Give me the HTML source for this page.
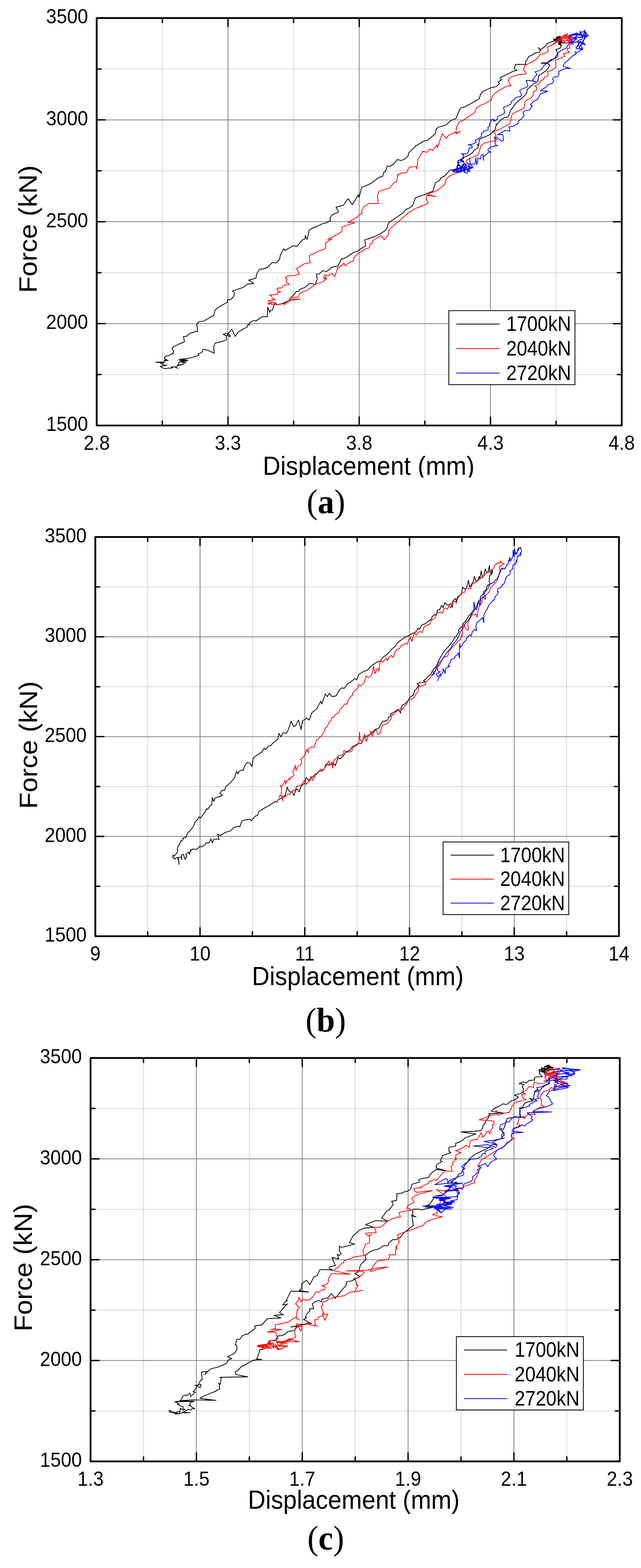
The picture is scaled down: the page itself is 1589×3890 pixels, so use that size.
<!DOCTYPE html>
<html><head><meta charset="utf-8"><title>Force-displacement</title>
<style>
html,body{margin:0;padding:0;background:#fff;}
body{width:1589px;height:3890px;overflow:hidden;}
svg{display:block;}
.gm{stroke:#cccccc;stroke-width:1.5;}
.gM{stroke:#838383;stroke-width:2;}
.tk{stroke:#000;stroke-width:3.4;stroke-linecap:round;fill:none;}
.fr{stroke:#000;stroke-width:4.4;fill:none;stroke-linejoin:round;}
.tl text{font-family:"Liberation Sans", Arial, sans-serif;font-size:50.6px;fill:#000;}
.tl text.lt{font-size:51px;}
.at{font-family:"Liberation Sans", Arial, sans-serif;fill:#000;}
.xt{font-size:65px;}
.yt{font-size:63px;}
.pl{font-family:"Liberation Serif", "Times New Roman", serif;font-size:85px;fill:#000;}
.cv{stroke-width:1.9;stroke-linejoin:round;}
.lg{fill:#fff;stroke:#000;stroke-width:2;}
.ll{stroke-width:2;}
</style></head><body>
<svg width="1589" height="3890" viewBox="0 0 1589 3890"><defs><clipPath id="clipA" clipPathUnits="userSpaceOnUse"><rect x="0" y="1100" width="1589" height="84.5"/></clipPath></defs><g><line x1="402.4" y1="44.7" x2="402.4" y2="1055.6" class="gm"/><line x1="727.8" y1="44.7" x2="727.8" y2="1055.6" class="gm"/><line x1="1053.2" y1="44.7" x2="1053.2" y2="1055.6" class="gm"/><line x1="1378.6" y1="44.7" x2="1378.6" y2="1055.6" class="gm"/><line x1="239.7" y1="929.2" x2="1541.3" y2="929.2" class="gm"/><line x1="239.7" y1="676.5" x2="1541.3" y2="676.5" class="gm"/><line x1="239.7" y1="423.8" x2="1541.3" y2="423.8" class="gm"/><line x1="239.7" y1="171.1" x2="1541.3" y2="171.1" class="gm"/><line x1="565.1" y1="44.7" x2="565.1" y2="1055.6" class="gM"/><line x1="890.5" y1="44.7" x2="890.5" y2="1055.6" class="gM"/><line x1="1215.9" y1="44.7" x2="1215.9" y2="1055.6" class="gM"/><line x1="239.7" y1="802.9" x2="1541.3" y2="802.9" class="gM"/><line x1="239.7" y1="550.1" x2="1541.3" y2="550.1" class="gM"/><line x1="239.7" y1="297.4" x2="1541.3" y2="297.4" class="gM"/></g><path d="M385.5,898.5 399.7,898.5 406.4,898 410.2,895.2 406.4,893.3 411.1,893.8 416.8,894.7 411.1,891.9 408.7,889.5 407.3,887.1 410.6,884.7 412.1,883.3 417.8,882.4 425.4,878.6 427.3,876.2 429.2,878.6 430.1,870 428.2,868 426.6,863 431.5,859.6 444.9,853 457.2,848 455.8,839.7 454.8,834.7 461.5,834.7 471.5,826.4 479.8,824.7 484.8,821.4 489.8,823 489.1,809.7 487.1,806.4 493.1,798.1 505.7,796.4 516.4,789.8 521.4,786.5 529.7,783.1 533,769.8 538,764.8 551.3,756.5 562.9,750.5 564.6,743.2 572.3,743.2 579.6,734.9 581.2,726.6 576.3,721.6 582.9,719.9 601.2,713.3 607.9,709.9 612.8,705 629.5,703.3 616.2,695 634.5,690 636.1,680 643.3,668 653.3,667 663.2,663 674.9,651.4 684.9,652.4 693.2,643 694.9,633.1 703.2,617.1 706.5,621.4 726.5,609.8 736.4,611.4 749.7,594.8 756.4,593.1 756.4,584.8 761.4,594.1 766.4,571.5 773,566.5 786.3,561.5 799.6,554.9 809.6,552.6 819.6,546.6 817.9,541.6 822.9,533.3 839.6,525.9 832.9,514 851.2,509.3 857.9,500 863.3,492.9 873.3,507.9 888.3,482.9 889.9,490.2 896.6,464.6 909.9,459.6 919.9,454.7 931.5,446.3 939.8,439.7 948.1,438 951.5,428 956.5,423 959.8,411.4 966.4,413.1 976.4,406.4 984.7,395.8 994.7,398.1 1003,394.8 1011.3,387.1 1013,379.8 1023,369.8 1031.3,361.5 1041.3,355.8 1051.3,349.9 1059.6,348.2 1069.6,339.9 1079.5,331.6 1081.2,319.9 1087.9,314.9 1096.2,313.3 1106.2,309.9 1116.1,300 1131.1,293.3 1134.4,283.3 1136.1,280 1141.6,267.9 1153.3,264.6 1178.2,251.3 1188.2,244.6 1191.5,233 1198.2,226.3 1216.5,218 1229.8,214.7 1238.1,208 1234.8,203 1243.1,198.1 1239.8,193.1 1246.4,189.7 1256.4,184.8 1266.4,179.8 1273,176.4 1281.3,174.8 1274.7,169.8 1278,159.8 1289.7,159.8 1303,159.8 1303,153.1 1306.3,148.2 1311.3,139.8 1319.6,136.5 1326.3,131.5 1337.9,129.9 1339.6,124.9 1334.6,118.2 1339.6,123.2 1349.5,116.6 1354.5,111.6 1356.2,108.2 1364.5,104.9 1372.8,101.6 1376.2,98.3 1381.1,93.3 1386.1,91.6 1378,104 1372,96 1380,103 1383,92 1388,90 1385,100 1391,94 1393,104 1386,108 1390,113 1389.5,96.6 1386.1,106.6 1391.1,109.9 1391.1,114.9 1387.8,119.9 1382.8,121.5 1377.8,123.2 1379.5,126.5 1382.8,131.5 1379.5,138.2 1372.8,146.5 1366.2,149.8 1359.5,154.8 1341.2,156.5 1359.5,158.1 1362.8,163.1 1359.5,168.1 1354.5,174.8 1349.5,178.1 1341.2,184.8 1336.2,186.4 1334.6,193.1 1332.9,203 1322.9,208 1312.9,216.4 1306.3,223 1306.3,228 1303,234.7 1293,244.6 1279.7,254.6 1273,264.6 1266.4,272.9 1259.7,289.5 1248.1,292.9 1239.8,299.5 1233.1,307.8 1229.5,307.8 1230.7,310.2 1228.3,316.1 1228.3,320.9 1221.2,326.8 1216.4,332.8 1209.3,336.3 1197.4,341.1 1187.9,345.8 1186.7,361.3 1183.2,358.9 1185.6,363.7 1184.4,367.2 1176,372 1171.3,379.1 1161.8,385.1 1151.1,389.8 1141.6,395.8 1135.6,399.3 1134.5,404.1 1136.8,407.6 1134.5,413.6 1132.1,418.3 1125,420.7 1115.4,421.9 1102.8,436.4 1092.8,441.3 1089.5,448 1079.5,453 1072.9,474.6 1062.9,477.9 1052.9,482.9 1041.3,486.3 1029.6,491.2 1023,509.5 1014.7,516.2 1006.4,519.5 999.7,527.8 962.6,553.2 959.3,566.5 954.3,572.5 942.7,579.8 929.4,586.5 916.1,591.5 904.4,594.8 906.1,609.8 896.1,616.4 886.1,623.1 876.2,626.4 866.2,633.1 856.2,639.7 846.2,643 837.9,659.7 822.9,663 809.6,673.7 799.6,671.3 791.3,679.6 784.7,679.6 786.3,692.9 781.3,706.3 774.7,703.6 766.4,703.6 756.4,712.9 743.1,717.9 739.8,723.6 734.8,722.9 726.5,732.9 721.5,737.9 718.1,741.2 718.4,744.2 704.2,751.3 697,753.7 687.5,756 681.6,751.3 678,760.8 675.6,769.1 670.9,770.3 668.5,775.1 663.8,762 662.6,785.8 649.5,785.8 634.5,796.4 629.5,794.8 619.5,799.8 617.8,806.4 614.5,804.8 612.8,811.4 602.9,816.4 591.2,823 582.9,834.7 574.6,816.4 562.9,831.4 570.6,835.7 569.6,831.4 561.3,826.4 553,829.7 561.3,833 561.3,843 558,844.7 546.3,848 533,851.3 529.7,861.3 531.3,876.3 516.4,869.6 503.1,866.3 501.4,872.9 496.4,876.3 491.4,877.9 493.1,881.3 483.1,884.6 473.1,887.9 473.9,887.6 443.4,891.9 464.4,892.8 445.3,894.7 465.3,895.2 448.2,895.7 460.6,899.5 455.8,900.4 449.1,897.6 443.4,898.5 440.6,906.1 455.8,903.3 441.5,907.1 433.9,910.9 441.5,913.7 432,909.9 424.4,910.4 428.2,911.8 425.4,913.3 416.8,913.3 413,914.2 405.4,913.7 403.5,912.3 398.8,910.9 397.8,908.5 404.5,907.5 413,907.1 401.6,903.7 398.8,901.4 406.4,900.4 385.5,898.5" fill="none" stroke="#000" class="cv cva"/><path d="M1371.4,96.4 1374.2,99.2 1372.8,102.8 1379.9,92.8 1382.8,90.7 1384.2,95.6 1388.5,89.9 1389.9,92.8 1387,98.5 1388.5,107.1 1385.6,111.3 1384.2,102.8 1381.3,97.1 1377.1,102.8 1379.2,94.2 1386.3,91.4 1389.9,101.4 1394.2,105.6 1401.3,104.2 1392.7,107.1" fill="none" stroke="#000" class="cv cva"/><path d="M662.6,753.7 679.2,750.1 668.5,750.1 665,746.5 678,744.2 682.8,743 675.6,741.8 673.3,734.7 668.5,732.3 688.7,729.9 687.5,726.3 695.8,724 689.9,722.8 686.3,716.8 688.7,714.5 698.2,714.5 704.2,707.3 717.2,706.1 710.1,699 711.3,691.9 707.7,689.5 711.3,684.8 727.9,683.6 742.2,680 734.8,666.3 746.4,659.7 753.1,654.7 769.7,651.4 766.4,639.7 768,633.1 783,626.4 789.7,623.1 804.6,618.1 808,613.1 806.3,603.1 822.9,593.1 812.9,594.1 832.9,583.2 839.6,579.8 847.9,573.9 847.9,563.2 862.8,558.2 879.5,552.6 862.8,551.6 886.1,538.3 889.5,533.3 897.8,529.9 896.1,523.3 901.1,513.3 914.4,505 937.7,505 935.8,486.3 939.2,474.6 949.8,471.3 966.4,466.3 976.4,453 983.1,451.3 986.4,431.4 988.1,434.7 993,429.7 1008,428 1014.7,414.7 1033,413.1 1033,419.7 1036.3,394.8 1041.3,388.1 1047.9,374.8 1057.9,378.1 1066.2,369.8 1072.9,373.1 1082.9,359.8 1084.5,366.5 1096.2,331.6 1106.2,343.2 1112.8,334.9 1129.4,328.2 1131.1,331.6 1141.1,325.9 1129.4,329.9 1132.8,313.3 1139.4,301.6 1149.4,298.3 1159.4,290 1176,280 1181.5,267.9 1188.2,262.9 1203.2,256.3 1218.1,248 1219.8,239.6 1226.5,231.3 1239.8,223 1251.4,216.4 1258.1,213 1266.4,213 1263,206.4 1259.7,199.7 1263,193.1 1276.4,188.1 1286.3,184.8 1293,184.8 1304.6,183.1 1298,173.1 1299.6,164.8 1306.3,159.8 1312.9,156.5 1319.6,153.1 1327.9,148.2 1339.6,134.9 1352.9,131.5 1359.5,126.5 1356.2,116.6 1366.2,113.2 1372.8,108.2 1382.8,103.2 1386.1,98.3 1396.1,93.3 1406.1,85 1402.8,93.3 1419.4,91.6 1386,95 1407,83.5 1396,93 1402,88 1418,93 1407,97 1415,94 1410,103 1421,110 1412,103 1404,107 1394,107 1401,104 1390,97 1367,112 1377,107 1378,100 1392,101 1405,94 1419,92 1419.4,93.3 1409.4,96.6 1421.1,101.6 1417.7,108.2 1411.1,113.2 1412.7,119.9 1406.1,119.9 1406.1,124.9 1412.7,129.9 1396.1,133.2 1401.1,139.8 1392.8,143.2 1382.8,146.5 1376.2,149.8 1377.8,156.5 1377.8,168.1 1366.2,174.8 1356.2,178.1 1359.5,184.8 1356.2,189.7 1349.5,191.4 1347.9,196.4 1339.6,201.4 1336.2,208 1326.3,213 1331.2,218 1329.6,224.7 1321.3,228 1322.9,234.7 1316.3,243 1306.3,248 1301.3,252.9 1299.6,266.3 1294.7,271.2 1283,276.2 1269.7,282.9 1266.4,296.2 1263,307.8 1258,310.2 1249.7,313.8 1242.6,318.5 1233.1,323.3 1221.2,328 1228.3,331.6 1229.5,337.5 1224.8,341.1 1231.9,345.8 1226,349.4 1212.9,351.8 1199.8,355.4 1191.5,362.5 1190.3,368.4 1186.7,380.3 1182,386.2 1166.5,392.2 1157,396.9 1155.8,401.7 1161.8,406.4 1152.3,407.6 1146.3,408.8 1144,416 1142.8,425.5 1129.7,430.2 1119,433.8 1109.5,441.3 1104.5,448 1102.8,458 1089.5,468 1079.5,474.6 1069.6,477.9 1059.6,482.9 1081.2,487.9 1057.9,484.6 1056.3,492.9 1061.2,504.6 1049.6,509.5 1036.3,514.5 1023,521.2 1013,527.8 964.3,569.9 962.6,583.2 952.7,594.8 944.4,584.8 936,589.8 924.4,596.5 922.7,603.1 917.7,604.8 916.1,614.8 904.4,618.1 894.5,624.8 886.1,629.7 877.8,639.7 876.2,648 867.8,649.7 856.2,659.7 852.9,653 839.6,664.7 837.9,663 834.6,673 829.6,686.3 822.9,678 812.9,684.6 804.6,681.3 809.6,692.9 801.3,686.3 806.3,694.6 799.6,699.6 783,704.6 771.4,712.9 763,719.6 753.1,722.9 746.4,726.2 741,731.1 739.8,737 722,738.2 717.2,742.3 744.6,742.3 720.8,745.4 717.2,748.9 708.9,751.3 704.2,757.2 706.5,752.5 687.5,756 662.6,753.7" fill="none" stroke="#f00" class="cv cva"/><path d="M1385.6,94.2 1407,83.5 1395.6,92.8 1401.3,88.5 1418.4,92.8 1407,97.1 1415.6,94.2 1409.9,102.8 1421.3,109.9 1412.7,102.8 1404.1,107.1 1394.2,107.1 1401.3,104.2 1389.9,97.1 1367.1,112 1377.1,107.1 1378.5,99.9 1394.2,95.6 1415.6,89.9 1404.1,99.9 1418.4,99.9 1398.4,101.4" fill="none" stroke="#f00" class="cv cva"/><path d="M1145.2,423.1 1120.2,424.3 1128.5,423.1 1135.6,426.6 1141.6,425.5 1132.1,418.3 1133.3,411.2 1135.6,406.4 1134.5,401.7 1138,396.9 1149.9,401.7 1141.6,398.1 1149.9,392.2 1147.5,389.8 1149.9,385.1 1144,381.5 1158.2,381.5 1161.8,375.6 1163,367.2 1171.3,366 1168.9,361.3 1160.6,358.9 1171.3,357.7 1176,355.4 1180.8,353 1177.2,348.2 1184.4,345.8 1186.7,342.3 1192.7,339.9 1193.9,335.2 1192.7,331.6 1197.4,329.2 1198.6,325.6 1208.1,323.3 1210.5,320.9 1209.3,316.1 1212.9,313.8 1214.1,306.6 1216.4,304.3 1217.6,298.3 1215.3,297.1 1223.6,295.9 1227.1,300.7 1222.4,299.5 1229.5,298.3 1233.1,294.8 1233.1,289.5 1248.1,282.9 1251.4,279.6 1248.1,266.3 1258.1,262.9 1266.4,257.9 1268,251.3 1273,248 1279.7,241.3 1289.7,239.6 1293,236.3 1288,224.7 1296.3,219.7 1306.3,216.4 1308,211.4 1304.6,199.7 1311.3,199.7 1321.3,201.4 1327.9,203 1319.6,199.7 1326.3,189.7 1331.2,184.8 1326.3,178.1 1332.9,176.4 1341.2,173.1 1346.2,166.5 1349.5,161.5 1356.2,156.5 1359.5,153.1 1364.5,148.2 1372.8,146.5 1379.5,143.2 1382.8,138.2 1382.8,131.5 1389.5,126.5 1396.1,123.2 1402.8,119.9 1409.4,109.9 1416.1,104.9 1416.1,98.3 1426.1,91.6 1439.4,81.6 1449.3,76.6 1457.7,88.3 1429.4,85 1412.7,89.9 1410,88 1430,82 1438,88 1438,77 1444,93 1450,75 1451,93 1458,88 1447,90 1438,93 1430,92 1418,97 1430,96 1421,103 1415,104 1410,107 1438,103 1451,112 1440,105 1435,107 1428,120 1444,123 1436,117 1447,100 1452,82 1451,86.6 1449.3,96.6 1444.4,101.6 1449.3,109.9 1439.4,109.9 1444.4,121.5 1439.4,124.9 1429.4,131.5 1426.1,128.2 1427.7,134.9 1422.7,136.5 1416.1,141.5 1412.7,144.8 1406.1,151.5 1399.4,156.5 1396.1,164.8 1414.4,169.8 1402.8,169.8 1392.8,173.1 1384.5,178.1 1386.1,183.1 1382.8,189.7 1372.8,191.4 1369.5,196.4 1372.8,199.7 1369.5,206.4 1359.5,209.7 1352.9,216.4 1339.6,224.7 1357.9,226.3 1339.6,233 1337.9,236.3 1332.9,246.3 1322.9,251.3 1314.6,259.6 1319.6,262.9 1312.9,272.9 1301.3,274.6 1296.3,279.6 1299.6,286.2 1293,294.5 1286.3,299.5 1283,307.8 1284.2,306.6 1273.5,312.6 1261.6,315 1264,325.6 1253.3,323.3 1233.1,334 1237.8,334 1246.2,334 1248.5,347 1243.8,350.6 1230.7,339.9 1226,343.5 1228.3,347 1227.1,354.2 1228.3,358.9 1233.1,361.3 1224.8,362.5 1216.4,364.9 1210.5,369.6 1209.3,373.2 1216.4,377.9 1210.5,377.9 1203.4,385.1 1197.4,389.8 1198.6,398.1 1197.4,382.7 1192.7,385.1 1191.5,394.6 1184.4,392.2 1184.4,399.3 1182,408.8 1179.6,391 1178.4,404.1 1176,407.6 1165.4,406.4 1164.2,392.2 1165.4,407.6 1170.1,411.2 1172.5,416 1163,416 1161.8,419.5 1157,419.5 1159.4,425.5 1158.2,430.2 1152.3,427.8 1147.5,423.1 1154.7,406.4 1151.1,425.5 1145.2,408.8 1142.8,420.7 1135.6,418.3 1128.5,423.1 1123.8,426.6 1138,427.8 1147.5,424.3" fill="none" stroke="#00f" class="cv cva"/><path d="M1409.9,88.5 1429.8,82.1 1438.4,88.5 1438.4,77.1 1444.1,93.5 1449.8,75 1451.2,93.5 1458.3,87.8 1446.9,89.9 1438.4,92.8 1429.8,92.1 1418.4,97.1 1429.8,95.6 1421.3,102.8 1415.6,104.2 1409.9,107.1 1438.4,102.8 1451.2,112 1439.8,104.9 1435.5,107.1 1428.4,119.9 1444.1,122.7 1435.5,117 1432.7,99.9 1444.1,97.1 1441.2,85.7 1424.1,87.1" fill="none" stroke="#00f" class="cv cva"/><path d="M1122.8,423 1136.1,419.7 1132.8,413.1 1139.4,409.7 1142.7,426.4 1149.4,406.4 1151.1,428 1156.1,413.1 1161,423 1162.7,406.4 1164.4,426.4 1154.4,419.7 1142.7,413.1 1132.8,423 1126.1,421.4 1139.4,416.4 1146.1,423 1136.1,403.1 1149.4,399.8 1142.7,396.4 1157.7,411.4 1166,413.1 1171,416.4 1162.7,419.7" fill="none" stroke="#00f" class="cv cva"/><path d="M402.4,1055.6v-11M402.4,44.7v11M565.1,1055.6v-21M565.1,44.7v21M727.8,1055.6v-11M727.8,44.7v11M890.5,1055.6v-21M890.5,44.7v21M1053.2,1055.6v-11M1053.2,44.7v11M1215.9,1055.6v-21M1215.9,44.7v21M1378.6,1055.6v-11M1378.6,44.7v11M239.7,929.2h11M1541.3,929.2h-11M239.7,802.9h21M1541.3,802.9h-21M239.7,676.5h11M1541.3,676.5h-11M239.7,550.1h21M1541.3,550.1h-21M239.7,423.8h11M1541.3,423.8h-11M239.7,297.4h21M1541.3,297.4h-21M239.7,171.1h11M1541.3,171.1h-11" class="tk"/><rect x="239.7" y="44.7" width="1301.6" height="1010.9" class="fr"/><g class="tl"><rect x="1112.6" y="770.6" width="312.7" height="183.7" class="lg"/><line x1="1131.2" y1="803.9" x2="1238.4" y2="803.9" stroke="#000" class="ll"/><text transform="translate(1415.8,820.9) scale(0.915,1)" text-anchor="end" class="lt">1700kN</text><line x1="1131.2" y1="864.8" x2="1238.4" y2="864.8" stroke="#f00" class="ll"/><text transform="translate(1415.8,881.8) scale(0.915,1)" text-anchor="end" class="lt">2040kN</text><line x1="1131.2" y1="925.6" x2="1238.4" y2="925.6" stroke="#00f" class="ll"/><text transform="translate(1415.8,942.6) scale(0.915,1)" text-anchor="end" class="lt">2720kN</text></g><g class="tl"><text transform="translate(218.2,1069.1) scale(0.924,1)" text-anchor="end">1500</text><text transform="translate(218.2,816.4) scale(0.924,1)" text-anchor="end">2000</text><text transform="translate(218.2,563.6) scale(0.924,1)" text-anchor="end">2500</text><text transform="translate(218.2,310.9) scale(0.924,1)" text-anchor="end">3000</text><text transform="translate(218.2,58.2) scale(0.924,1)" text-anchor="end">3500</text><text transform="translate(239.7,1116.3) scale(0.924,1)" text-anchor="middle">2.8</text><text transform="translate(565.1,1116.3) scale(0.924,1)" text-anchor="middle">3.3</text><text transform="translate(890.5,1116.3) scale(0.924,1)" text-anchor="middle">3.8</text><text transform="translate(1215.9,1116.3) scale(0.924,1)" text-anchor="middle">4.3</text><text transform="translate(1541.3,1116.3) scale(0.924,1)" text-anchor="middle">4.8</text></g><g clip-path="url(#clipA)"><text transform="translate(914,1178) scale(0.932,1)" text-anchor="middle" class="at xt">Displacement (mm)</text></g><text transform="translate(91,568.4) rotate(-90) scale(1.065,1)" text-anchor="middle" class="at yt">Force (kN)</text><text transform="translate(808,1272.5) scale(0.965,1)" text-anchor="middle" class="pl">(<tspan font-weight="bold">a</tspan>)</text><g><line x1="366.1" y1="1332.3" x2="366.1" y2="2322.6" class="gm"/><line x1="625.7" y1="1332.3" x2="625.7" y2="2322.6" class="gm"/><line x1="885.4" y1="1332.3" x2="885.4" y2="2322.6" class="gm"/><line x1="1145" y1="1332.3" x2="1145" y2="2322.6" class="gm"/><line x1="1404.6" y1="1332.3" x2="1404.6" y2="2322.6" class="gm"/><line x1="236.3" y1="2198.8" x2="1534.4" y2="2198.8" class="gm"/><line x1="236.3" y1="1951.2" x2="1534.4" y2="1951.2" class="gm"/><line x1="236.3" y1="1703.7" x2="1534.4" y2="1703.7" class="gm"/><line x1="236.3" y1="1456.1" x2="1534.4" y2="1456.1" class="gm"/><line x1="495.9" y1="1332.3" x2="495.9" y2="2322.6" class="gM"/><line x1="755.5" y1="1332.3" x2="755.5" y2="2322.6" class="gM"/><line x1="1015.2" y1="1332.3" x2="1015.2" y2="2322.6" class="gM"/><line x1="1274.8" y1="1332.3" x2="1274.8" y2="2322.6" class="gM"/><line x1="236.3" y1="2075" x2="1534.4" y2="2075" class="gM"/><line x1="236.3" y1="1827.4" x2="1534.4" y2="1827.4" class="gM"/><line x1="236.3" y1="1579.9" x2="1534.4" y2="1579.9" class="gM"/></g><path d="M428.3,2128.5 428.7,2121.2 432,2124.4 434.4,2120.4 436.8,2118 438.4,2116.8 439.2,2113.9 440.9,2110.7 439.2,2106.7 440.9,2102.6 441.7,2098.6 443.3,2097.8 444.9,2093.7 447.3,2088.9 448.5,2085.7 450.6,2087.3 453,2082.4 454.6,2080.8 453.2,2079.6 461.5,2076.3 464.9,2066.3 469.9,2063 474.9,2056.3 479.8,2049.7 483.2,2039.7 489.8,2033 493.1,2026.4 496.5,2029.7 503.1,2021.4 509.8,2013.1 511.4,2006.4 514.8,2008.1 519.8,1999.8 524.8,1996.4 526.4,1978.1 529.7,1988.1 533.1,1979.8 543,1976.5 551.4,1973.1 544.7,1968.2 551.4,1959.8 556.4,1961.5 559.7,1951.5 573,1939.9 581.3,1929.9 586.3,1913.3 589.6,1919.9 592.9,1913.3 599.6,1909.9 602.9,1911.6 606.3,1900 612.9,1891.6 619.6,1893.3 624.6,1901.6 627.9,1880 650,1864.6 655,1856.2 658.3,1859.6 665,1851.2 671.6,1849.6 676.6,1842.9 688.3,1834.6 691.6,1819.6 696.6,1828 701.6,1818 709.9,1819.6 714.9,1809.7 721.5,1789.7 728.2,1803 733.2,1799.7 739.8,1786.4 746.5,1809.7 749.8,1788 756.5,1784.7 759.8,1781.4 766.4,1786.4 773.1,1768.1 779.7,1763.1 786.4,1756.4 794.7,1739.8 798,1746.5 806.4,1721.5 811.3,1728.2 816.3,1719.8 823,1728.2 833,1726.5 841.3,1711.5 847.9,1706.5 852.9,1708.2 861.2,1696.6 867.9,1693.2 879.5,1683.2 884.5,1686.6 889.5,1673.3 902.8,1665 909.5,1663.3 917.8,1655 926.1,1648.3 932.8,1643.3 942.7,1640 950,1629.5 956.7,1626.2 965,1617.9 971.6,1609.5 976.6,1606.2 981.6,1601.2 984.9,1594.6 989.9,1591.2 996.6,1586.3 1003.2,1581.3 1011.5,1577.9 1016.5,1574.6 1024.9,1570.3 1028.2,1569.6 1033.2,1564.6 1036.5,1558 1039.8,1561.3 1046.5,1549.7 1053.1,1548 1059.8,1543 1064.8,1539 1068.1,1538 1071.4,1529.7 1078.1,1524.7 1081.4,1526.4 1084.7,1513.1 1089.7,1513.1 1094.7,1501.4 1098,1508.1 1103,1494.8 1108,1500.4 1114.7,1499.1 1118,1498.1 1121.3,1506.4 1123,1489.8 1129.6,1484.8 1131.3,1493.1 1134.6,1479.8 1139.6,1478.1 1144.6,1473.1 1146.3,1456.5 1151.3,1461.5 1156.3,1459.8 1161.2,1439.9 1164.6,1456.5 1167.9,1451.5 1172.9,1443.2 1176.2,1429.9 1179.5,1441.5 1184.5,1439.9 1187.9,1429.9 1189.5,1436.6 1192.8,1416.6 1196.2,1433.2 1199.5,1426.6 1202.8,1411.6 1206.2,1419.9 1209.5,1419.9 1213.3,1403.2 1213.9,1414.5 1215.3,1418.5 1217.3,1425.2 1218.6,1417.2 1219.9,1414.5 1221.3,1417.2 1220.6,1419.9 1218.6,1425.2 1215.9,1426.5 1213.9,1427.8 1213.3,1433.2 1212.6,1441.1 1213.9,1446.5 1215.3,1449.1 1209.5,1451.5 1206.2,1456.5 1204.5,1464.8 1199.5,1466.5 1197.8,1474.8 1194.5,1476.5 1191.2,1479.8 1189.5,1491.4 1184.5,1494.8 1182.9,1501.4 1179.5,1508.1 1176.2,1513.1 1171.2,1516.4 1167.9,1523 1162.9,1526.4 1159.6,1533 1156.3,1536.4 1152.9,1543 1147.9,1546.3 1146.3,1553 1141.3,1558 1136.3,1563 1138,1566.3 1134.6,1572.9 1131.3,1577.9 1126.3,1582.9 1123,1589.6 1118,1596.2 1113,1602.9 1106.4,1609.5 1099.7,1617.9 1094.7,1626.2 1089.7,1634.5 1083.1,1649.5 1079.2,1655.7 1073.7,1662.3 1070.4,1666.7 1068.2,1673.2 1062.8,1676.5 1056.2,1684.2 1049.6,1688.5 1054,1691.8 1047.5,1692.9 1038.7,1694 1034.3,1696.2 1037.6,1699.5 1035.4,1704.9 1032.1,1709.3 1027.8,1713.7 1024.5,1724.6 1019,1727.9 1015.7,1731.2 1010.3,1739.9 1003.7,1746.5 997.2,1749.8 995,1756.3 992.8,1769.4 988.4,1760.7 984,1760.7 980.8,1764 976.4,1767.2 968.7,1770.5 967.7,1777.1 963.3,1779.3 960,1788 947.7,1789.7 942.7,1799.7 939.4,1806.3 929.4,1809.7 921.1,1819.6 909.5,1826.3 902.8,1829.6 897.8,1839.6 896.2,1844.6 887.9,1844.6 882.9,1847.9 872.9,1852.9 867.9,1861.2 856.3,1866.2 852.9,1872.9 842.9,1882.8 838,1879.5 831.3,1899.5 826.3,1892.8 823,1896.2 816.3,1897.8 808,1896.2 803,1909.5 796.8,1912.9 793.8,1911.9 789.8,1913.9 785.8,1918.9 781.8,1919.9 777.8,1924.9 773.8,1927.9 769.8,1931.9 764.9,1935.9 761.9,1931.9 758.9,1928.9 755.9,1943.9 751.9,1944.9 745.9,1951.9 741.9,1964.8 735.9,1956.8 731.9,1963.8 728.9,1973.8 723.9,1963.8 719.9,1964.8 715.9,1961.8 712,1952.9 709,1965.8 706,1975.8 698,1979.8 690,1983.8 686.1,1989.8 682.8,1988.1 672.8,1994.8 666.1,1999.1 657.8,2003.1 647.8,2009.7 642.8,2011.4 637.9,2023 632.9,2024.7 622.9,2036.4 619.6,2032.4 606.3,2034.7 599.6,2036.4 594.6,2051.3 591.3,2049.7 579.6,2053 571.3,2061.3 559.7,2064.6 546.4,2072.9 539.7,2069.6 543,2082.9 536.4,2081.3 529.7,2082.9 526.4,2091.2 523.1,2081.3 518.1,2091.2 509.8,2091.2 508.1,2096.2 499.8,2101.2 494.8,2099.6 491.8,2103.4 486.9,2107.1 477.2,2106.3 473.2,2110.7 472.4,2107.5 471.6,2112.3 469.9,2119.6 467.5,2113.9 460.2,2120.4 463.5,2123.6 458.6,2131.7 454.6,2119.6 449.7,2121.2 450.6,2132.5 448.9,2126.1 441.7,2127.7 444.1,2144.6 440.9,2128.5 440,2127.7 437.6,2127.7 435.2,2129.3 433.6,2131.7 431.2,2128.1 428.3,2128.5" fill="none" stroke="#000" class="cv cvb"/><path d="M692,1979.8 694,1972.8 699,1975.8 702,1987.8 697,1973.8 698,1955.8 695,1947.9 698,1951.9 702,1945.9 705,1939.9 707,1934.9 708,1945.9 710,1939.9 712,1936.9 715,1933.9 716.9,1930.9 718.9,1934.9 719.9,1927.9 722.9,1927.9 726.9,1925.9 728.9,1921.9 725.9,1913.9 727.9,1910.9 730.9,1904 731.9,1898 733.9,1911.9 737.9,1902 740.9,1900 744.9,1898 746.9,1892 747.9,1888 744.9,1884 749.9,1880 753.1,1876.2 756.5,1872.9 759.8,1859.6 764.8,1867.9 763.1,1857.9 773.1,1852.9 778.1,1854.6 783.1,1839.6 788.1,1832.9 796.4,1826.3 803,1816.3 806.4,1806.3 811.3,1803 813,1798 816.3,1791.4 819.7,1789.7 823,1779.7 826.3,1779.7 833,1771.4 839.6,1768.1 842.9,1759.8 849.6,1753.1 854.6,1746.5 861.2,1746.5 862.9,1736.5 869.6,1728.2 872.9,1724.8 874.6,1723.2 872.9,1721.5 879.5,1713.2 886.2,1708.2 889.5,1698.2 894.5,1701.5 899.5,1696.6 902.8,1693.2 907.8,1676.6 912.8,1681.6 919.5,1676.6 922.8,1669.9 926.1,1653.3 929.4,1671.6 934.4,1660 937.8,1658.3 939.4,1665 942.7,1640 950,1642.8 953.3,1636.2 958.3,1632.8 960,1639.5 965,1629.5 970,1626.2 975,1631.2 979.9,1616.2 984.9,1611.2 989.9,1609.5 994.9,1601.2 999.9,1599.6 1004.9,1596.2 1009.9,1597.9 1013.2,1586.3 1016.5,1581.3 1021.5,1591.2 1024.9,1576.3 1028.2,1569.6 1031.5,1576.3 1036.5,1569.6 1041.5,1566.3 1046.5,1569.6 1051.5,1554.7 1056.5,1553 1059.8,1549.7 1064.8,1549.7 1068.1,1539.7 1073.1,1536.4 1078.1,1533 1081.4,1523 1086.4,1519.7 1091.4,1518.1 1096.4,1521.4 1099.7,1511.4 1104.7,1508.1 1109.7,1511.4 1113,1501.4 1118,1508.1 1119.7,1496.4 1124.7,1493.1 1128,1491.4 1131.3,1496.4 1134.6,1484.8 1138,1479.8 1142.9,1473.1 1146.3,1469.8 1151.3,1469.8 1156.3,1458.2 1161.2,1459.8 1166.2,1461.5 1171.2,1448.2 1176.2,1446.5 1182.9,1441.5 1187.9,1438.2 1192.8,1433.2 1197.8,1429.9 1204.5,1423.2 1212.8,1418.3 1219.5,1413.3 1222.8,1411.6 1226.1,1403.3 1227.9,1401.2 1230.6,1398.6 1233.9,1396.6 1237.2,1397.2 1241.2,1395.9 1240.6,1391.2 1241.9,1395.2 1245.2,1397.2 1249.9,1398.6 1243.9,1401.2 1241.9,1402.5 1241.2,1405.9 1239.9,1404.5 1238.6,1405.2 1239.2,1414.5 1238.6,1419.9 1237.2,1425.2 1235.9,1427.8 1235.2,1431.8 1234.6,1434.5 1233.2,1437.2 1231.9,1439.8 1229.9,1443.8 1227.9,1446.5 1225.2,1449.1 1219.5,1454.9 1216.1,1458.2 1212.8,1468.2 1207.8,1473.1 1202.8,1478.1 1199.5,1479.8 1196.2,1486.5 1194.5,1494.8 1191.2,1499.8 1187.9,1504.8 1184.5,1518.1 1182.9,1531.4 1179.5,1523 1174.6,1524.7 1169.6,1526.4 1166.2,1533 1162.9,1538 1159.6,1546.3 1161.2,1563 1156.3,1561.3 1151.3,1553 1147.9,1546.3 1146.3,1559.6 1145.6,1579.6 1144.6,1574.6 1141.3,1586.3 1136.3,1589.6 1131.3,1596.2 1123,1602.9 1118,1609.5 1113,1614.5 1109.7,1627.8 1103,1629.5 1098,1632.8 1093,1642.8 1089.7,1649.5 1086.8,1652.5 1081.3,1660.1 1080.2,1664.5 1073.7,1666.7 1073.7,1670 1069.3,1677.6 1064.9,1683.1 1060.6,1687.5 1055.1,1691.8 1054,1696.2 1056.2,1698.4 1048.5,1700.6 1042,1702.8 1038.7,1699.5 1036.5,1714.8 1035.4,1715.9 1033.2,1719.2 1030,1723.5 1025.6,1731.2 1019,1734.5 1012.5,1737.7 1007,1748.7 1000.4,1754.1 998.3,1760.7 993.9,1756.3 987.3,1762.9 980.8,1766.2 975.3,1773.8 972,1771.6 969.8,1781.5 964.4,1791.3 960,1794.6 956.1,1796.4 947.7,1799.7 941.1,1821.3 936.1,1821.3 932.8,1809.7 926.1,1816.3 922.8,1826.3 919.5,1813 917.8,1821.3 912.8,1826.3 907.8,1839.6 904.5,1821.3 897.8,1839.6 892.8,1836.3 891.2,1816.3 889.5,1844.6 882.9,1849.6 876.2,1852.9 871.2,1864.6 859.6,1866.2 852.9,1861.2 849.6,1872.9 839.6,1874.5 836.3,1879.5 828,1886.2 824.7,1906.1 823,1889.5 818,1897.8 814.7,1887.8 803,1909.5 793,1909.5 789.8,1915.9 785.8,1919.9 781.8,1924.9 779.8,1928.9 777.8,1927.9 775.8,1935.9 773.8,1933.9 770.8,1925.9 769.8,1933.9 766.8,1937.9 763.9,1939.9 760.9,1943.9 757.9,1945.9 755.9,1939.9 753.9,1935.9 751.9,1939.9 747.9,1946.9 743.9,1948.9 739.9,1950.9 736.9,1949.9 732.9,1955.8 729.9,1961.8 726.9,1959.8 724.9,1963.8 719.9,1965.8 717.9,1971.8 715,1969.8 710,1972.8 708,1977.8 704,1973.8 699,1975.8 694,1972.8 692,1979.8" fill="none" stroke="#f00" class="cv cvb"/><path d="M1084.6,1689.6 1086.8,1683.1 1091.2,1677.6 1092.3,1672.1 1089,1675.4 1085.7,1678.7 1082.4,1674.3 1081.3,1671.1 1086.8,1670 1091.2,1665.6 1089,1667.8 1085.7,1664.5 1084.6,1660.1 1082.4,1655.7 1078.1,1665.6 1075.9,1672.1 1071.5,1675.4 1078.1,1665.6 1082.4,1655.7 1085.7,1650.3 1089,1643.7 1094.5,1639.4 1097.7,1633.9 1099.9,1630.6 1103.2,1626.2 1106.5,1620.8 1108.7,1617.5 1113,1613.1 1118.5,1606.6 1120.7,1600 1128,1592.9 1133,1586.3 1136.3,1579.6 1139.6,1572.9 1141.3,1566.3 1146.3,1561.3 1149.6,1554.7 1152.9,1548 1156.3,1543 1162.9,1536.4 1166.2,1529.7 1169.6,1523 1174.6,1518.1 1174.6,1493.1 1177.9,1509.7 1181.2,1513.1 1184.5,1499.8 1186.2,1489.8 1189.5,1503.1 1191.2,1493.1 1192.8,1484.8 1197.8,1479.8 1202.8,1486.5 1204.5,1483.1 1199.5,1473.1 1204.5,1466.5 1209.5,1459.8 1214.6,1449.1 1219.9,1446.5 1223.9,1445.1 1226.6,1441.1 1229.2,1437.8 1232.6,1435.8 1233.2,1431.8 1235.9,1430.5 1236.6,1426.5 1238.6,1422.5 1239.9,1419.9 1241.2,1415.9 1241.9,1412.5 1243.9,1409.2 1245.2,1412.5 1247.9,1409.2 1251.9,1411.9 1252.5,1407.9 1254.5,1405.2 1257.2,1403.2 1255.9,1400.6 1259.2,1399.2 1260.5,1397.2 1261.2,1393.2 1260.5,1389.9 1263.2,1391.2 1263.2,1382.6 1265.2,1386.6 1265.8,1392.6 1267.8,1385.9 1269.2,1385.2 1271.8,1378.6 1271.8,1364.6 1273.2,1373.3 1274.5,1381.3 1275.8,1362 1277.8,1376.6 1278.5,1369.9 1280.5,1374.6 1282.5,1371.3 1283.8,1361.3 1285.1,1366 1286.5,1358.6 1288.5,1360.6 1290.5,1358 1291.8,1364 1293.1,1367.3 1291.1,1371.9 1291.1,1379.3 1290.5,1370.6 1288.5,1374.6 1286.5,1379.9 1285.1,1379.9 1283.8,1377.3 1282.5,1382.6 1281.8,1386.6 1281.1,1394.6 1279.8,1390.6 1278.5,1395.9 1279.1,1399.2 1275.8,1398.6 1274.5,1401.2 1271.8,1401.9 1270.5,1405.2 1271.2,1411.9 1268.5,1411.9 1266.5,1415.2 1263.8,1416.5 1265.2,1419.2 1264.5,1421.2 1263.8,1425.2 1262.5,1426.5 1259.9,1427.8 1256.5,1429.8 1254.5,1433.2 1253.2,1435.2 1253.9,1437.8 1251.9,1441.1 1250.5,1444.5 1249.2,1449.1 1246.1,1449.9 1244.4,1454.9 1239.4,1458.2 1234.4,1459.8 1232.8,1466.5 1236.1,1468.2 1232.8,1474.8 1227.8,1479.8 1226.1,1486.5 1219.5,1493.1 1216.1,1496.4 1212.8,1499.8 1209.5,1506.4 1207.8,1511.4 1204.5,1514.7 1202.8,1519.7 1199.5,1524.7 1199.5,1544.7 1196.2,1531.4 1192.8,1536.4 1187.9,1539.7 1184.5,1543 1181.2,1546.3 1179.5,1553 1181.2,1564.6 1176.2,1561.3 1171.2,1566.3 1167.9,1577.9 1164.6,1574.6 1159.6,1579.6 1156.3,1584.6 1154.6,1589.6 1149.6,1592.9 1146.3,1599.6 1141.3,1606.2 1139.6,1596.2 1139,1632.8 1136.3,1619.5 1132.7,1625.1 1128.3,1628.4 1126.2,1633.9 1120.7,1635 1117.4,1638.3 1116.3,1643.7 1113,1647 1110.9,1651.4 1115.2,1653.6 1108.7,1655.7 1104.3,1659 1103.2,1671.1 1101,1663.4 1097.7,1659 1098.8,1665.6 1093.4,1674.3 1091.2,1677.6 1086.8,1683.1 1084.6,1689.6" fill="none" stroke="#00f" class="cv cvb"/><path d="M366.1,2322.6v-11M366.1,1332.3v11M495.9,2322.6v-21M495.9,1332.3v21M625.7,2322.6v-11M625.7,1332.3v11M755.5,2322.6v-21M755.5,1332.3v21M885.4,2322.6v-11M885.4,1332.3v11M1015.2,2322.6v-21M1015.2,1332.3v21M1145,2322.6v-11M1145,1332.3v11M1274.8,2322.6v-21M1274.8,1332.3v21M1404.6,2322.6v-11M1404.6,1332.3v11M236.3,2198.8h11M1534.4,2198.8h-11M236.3,2075h21M1534.4,2075h-21M236.3,1951.2h11M1534.4,1951.2h-11M236.3,1827.4h21M1534.4,1827.4h-21M236.3,1703.7h11M1534.4,1703.7h-11M236.3,1579.9h21M1534.4,1579.9h-21M236.3,1456.1h11M1534.4,1456.1h-11" class="tk"/><rect x="236.3" y="1332.3" width="1298.1" height="990.3" class="fr"/><g class="tl"><rect x="1098.3" y="2088.9" width="311.7" height="180" class="lg"/><line x1="1116.9" y1="2121.5" x2="1224.1" y2="2121.5" stroke="#000" class="ll"/><text transform="translate(1400.5,2138.5) scale(0.915,1)" text-anchor="end" class="lt">1700kN</text><line x1="1116.9" y1="2181.1" x2="1224.1" y2="2181.1" stroke="#f00" class="ll"/><text transform="translate(1400.5,2198.1) scale(0.915,1)" text-anchor="end" class="lt">2040kN</text><line x1="1116.9" y1="2240.6" x2="1224.1" y2="2240.6" stroke="#00f" class="ll"/><text transform="translate(1400.5,2257.6) scale(0.915,1)" text-anchor="end" class="lt">2720kN</text></g><g class="tl"><text transform="translate(214.8,2336.1) scale(0.924,1)" text-anchor="end">1500</text><text transform="translate(214.8,2088.5) scale(0.924,1)" text-anchor="end">2000</text><text transform="translate(214.8,1840.9) scale(0.924,1)" text-anchor="end">2500</text><text transform="translate(214.8,1593.4) scale(0.924,1)" text-anchor="end">3000</text><text transform="translate(214.8,1345.8) scale(0.924,1)" text-anchor="end">3500</text><text transform="translate(236.3,2383.3) scale(0.924,1)" text-anchor="middle">9</text><text transform="translate(495.9,2383.3) scale(0.924,1)" text-anchor="middle">10</text><text transform="translate(755.5,2383.3) scale(0.924,1)" text-anchor="middle">11</text><text transform="translate(1015.2,2383.3) scale(0.924,1)" text-anchor="middle">12</text><text transform="translate(1274.8,2383.3) scale(0.924,1)" text-anchor="middle">13</text><text transform="translate(1534.4,2383.3) scale(0.924,1)" text-anchor="middle">14</text></g><g><text transform="translate(887,2443.5) scale(0.932,1)" text-anchor="middle" class="at xt">Displacement (mm)</text></g><text transform="translate(91.8,1848.4) rotate(-90) scale(1.065,1)" text-anchor="middle" class="at yt">Force (kN)</text><text transform="translate(807.5,2559) scale(0.965,1)" text-anchor="middle" class="pl">(<tspan font-weight="bold">b</tspan>)</text><g><line x1="355.7" y1="2624.8" x2="355.7" y2="3625.5" class="gm"/><line x1="618.1" y1="2624.8" x2="618.1" y2="3625.5" class="gm"/><line x1="880.5" y1="2624.8" x2="880.5" y2="3625.5" class="gm"/><line x1="1142.8" y1="2624.8" x2="1142.8" y2="3625.5" class="gm"/><line x1="1405.2" y1="2624.8" x2="1405.2" y2="3625.5" class="gm"/><line x1="224.5" y1="3500.4" x2="1536.4" y2="3500.4" class="gm"/><line x1="224.5" y1="3250.2" x2="1536.4" y2="3250.2" class="gm"/><line x1="224.5" y1="3000.1" x2="1536.4" y2="3000.1" class="gm"/><line x1="224.5" y1="2749.9" x2="1536.4" y2="2749.9" class="gm"/><line x1="486.9" y1="2624.8" x2="486.9" y2="3625.5" class="gM"/><line x1="749.3" y1="2624.8" x2="749.3" y2="3625.5" class="gM"/><line x1="1011.6" y1="2624.8" x2="1011.6" y2="3625.5" class="gM"/><line x1="1274" y1="2624.8" x2="1274" y2="3625.5" class="gM"/><line x1="224.5" y1="3375.3" x2="1536.4" y2="3375.3" class="gM"/><line x1="224.5" y1="3125.2" x2="1536.4" y2="3125.2" class="gM"/><line x1="224.5" y1="2875" x2="1536.4" y2="2875" class="gM"/></g><path d="M433.3,3477.6 445.2,3476.4 449.9,3471.7 453.5,3463.4 458.2,3461 463,3462.2 471.3,3456.2 472.5,3464.6 484.4,3453.9 478.4,3452.7 484.4,3446.7 487.9,3438.4 483.2,3437.2 498.6,3434.9 496.2,3443.2 489.1,3438.4 493.9,3431.3 497.4,3424.2 501,3423 499.8,3404 512.9,3402.8 508.1,3409.9 515.3,3401.6 523.6,3395.6 542.6,3390.9 561.6,3382.6 565.2,3374.3 574.7,3370.7 564,3365.9 577,3360 581.3,3356.3 584.6,3353 588,3344.7 586.3,3336.4 583,3336.4 587,3323 594.6,3322.4 599.6,3314.7 609.6,3309.7 614.6,3309.7 619.6,3304.8 629.5,3298.1 632.9,3294.8 631.2,3289.8 649.5,3286.5 662.8,3271.5 696.1,3269.8 679.4,3263.2 702.7,3261.5 692.7,3256.5 702.7,3244.9 712.7,3234.9 701.1,3238.2 706.1,3229.9 712.7,3226.6 709.4,3226.6 721,3203.3 741.5,3203.8 764.8,3205.5 741.5,3201.2 748.1,3196.2 748.1,3184.6 759.8,3176.2 768.1,3187.2 778.1,3167.9 786.4,3164.6 793,3149.6 816.3,3150.3 826.3,3151.3 816.3,3147 816.3,3143 831.3,3139.6 823,3119.7 839.6,3123 836.3,3111.4 841.3,3114.7 846.3,3109.7 841.3,3104.7 841.3,3091.4 846.3,3094.7 879.5,3086.4 866.2,3083.1 869.6,3076.4 874.6,3066.5 886.2,3056.5 889.5,3053.1 901.2,3047.2 926.1,3044.8 906.2,3038.2 931.1,3028.2 961,3029.9 946.1,3021.5 952.7,3013.2 957.7,3004.9 964.4,3001.6 971,2993.3 974.4,2988.3 971,2980 982.7,2978.3 984.3,2966.7 982.7,2961.7 996,2960 999.8,2957.9 1011.4,2954.5 1018.1,2949.5 1021.4,2937.9 1033.1,2934.6 1039.7,2932.9 1038.1,2926.3 1049.7,2922.9 1063,2921.3 1066.3,2912.9 1074.7,2906.3 1081.3,2901.3 1106.3,2904.6 1081.3,2898 1081.3,2891.3 1086.3,2886.3 1091.3,2884.7 1096.3,2881.3 1091.3,2879.7 1094.6,2873 1097.9,2866.4 1102.9,2864.7 1107.9,2863 1117.9,2859.7 1112.9,2856.4 1112.9,2846.4 1129.5,2843.1 1129.5,2836.4 1139.5,2833.1 1147.8,2828.1 1152.8,2823.1 1179.4,2813.1 1142.8,2808.2 1176.1,2806.5 1192.7,2804.8 1196.1,2798.2 1197.7,2791.5 1202.7,2786.5 1204.4,2781.5 1206.1,2778.2 1211,2773.2 1211,2768.2 1216,2763.2 1211,2763.2 1232.7,2761.6 1249.3,2761.6 1217.7,2756.6 1227.7,2748.3 1236,2745 1247.6,2738.3 1255.1,2740.4 1267.6,2731 1273.9,2729.4 1281.7,2724.7 1284.9,2721.6 1275.5,2716.9 1288,2713.7 1295.9,2709 1297.4,2701.2 1294.3,2694.9 1299,2690.2 1286.4,2688.6 1297.4,2683.9 1303.7,2687.1 1311.5,2680.8 1325.7,2679.2 1324.1,2674.5 1330.4,2671.4 1344.5,2671.4 1338.2,2665.1 1336.6,2654.1 1347.6,2651 1350.8,2646.3 1363.3,2644.7 1369.6,2649.4 1360.2,2657.3 1350.8,2658.8 1341.3,2655.7 1347.6,2660.4 1357,2662 1366.4,2663.5 1363.3,2668.2 1361.7,2688.6 1350.8,2693.3 1344.5,2698 1336.6,2707.4 1331.9,2702.7 1325.7,2707.4 1324.1,2715.3 1322.5,2727.8 1313.1,2724.7 1321,2731 1306.8,2734.1 1300.6,2737.2 1294.3,2748.2 1288,2748.2 1289.6,2757.6 1288,2763.9 1291.2,2770.2 1300.6,2771.7 1275.5,2771.7 1256.6,2774.9 1253.5,2785.9 1250.4,2796.8 1244.1,2806.2 1250.4,2815.7 1244.1,2820.4 1242.6,2824.8 1232.7,2828.1 1224.4,2831.4 1221,2834.8 1229.3,2839.8 1219.4,2839.8 1216,2843.1 1209.4,2848.1 1196.1,2854.7 1186.1,2859.7 1176.1,2864.7 1169.5,2869.7 1162.8,2876.4 1159.5,2883 1152.8,2889.7 1149.5,2896.3 1146.2,2904.6 1142.8,2911.3 1137.9,2912.9 1132.9,2919.6 1129.5,2924.6 1116.2,2932.9 1132.9,2932.9 1122.9,2937.9 1119.6,2941.2 1112.9,2949.5 1106.3,2954.5 1102.9,2959.5 1099.6,2964.5 1083,2966.2 1078,2967.8 1073,2976.2 1069.7,2981.1 1063,2989.5 1064.6,2988.4 1055.1,2991.3 1055.1,2995.1 1058.9,2995.1 1074.1,2995.1 1043.7,3001.7 1040.9,2999.8 1024.7,2999.8 1022.8,3003.7 1023.8,3015.1 1020,3014.1 1022.8,3017 1031.4,3018.9 1020.9,3015.1 1022.8,3026.5 1024.7,3039.8 1000,3059.8 992.6,3069.8 982.7,3074.8 972.7,3075.8 964.4,3083.1 962.7,3089.7 947.7,3091.4 942.7,3096.4 936.1,3099.7 926.1,3101.4 916.1,3106.4 904.5,3114.7 907.8,3124.7 901.2,3129.7 892.8,3139.6 889.5,3154.6 879.5,3159.6 892.8,3166.3 889.5,3169.6 876.2,3172.9 879.5,3174.6 871.2,3177.9 859.6,3179.6 857.9,3189.5 849.6,3197.9 842.9,3206.2 831.3,3221.1 821.3,3209.5 813,3219.5 806.4,3221.1 798,3222.8 796.4,3229.5 789.7,3226.1 779.8,3230.4 774.1,3235.1 777.9,3246.5 772.2,3246.5 767.5,3247.5 768.4,3251.3 760.8,3259.8 757,3267.5 759.9,3269.4 752.3,3273.2 764.6,3279.8 772.2,3283.6 760.8,3284.6 741.8,3288.4 720.9,3292.2 739,3288.4 730.4,3299.8 724.7,3301.7 715.2,3302.6 707.6,3309.3 700,3313.1 687.8,3314.7 682.8,3326.4 667.8,3326.4 666.1,3334.7 654.5,3338 651.2,3348 644.5,3348 641.2,3359.6 636.2,3371.3 649.5,3372.9 637.6,3373.1 629.3,3374.3 612.7,3382.6 610.3,3385 602,3388.5 598.4,3389.7 590.1,3400.4 583,3402.8 584.2,3409.9 613.9,3415.8 545,3417 548.5,3418.2 546.2,3433.7 541.4,3431.3 545,3436 543.8,3440.8 545,3445.6 536.6,3449.1 535.5,3451.5 522.4,3456.2 511.7,3461 502.2,3464.6 496.2,3469.3 535.5,3474.1 476,3472.9 445.2,3475.3 480.8,3476.4 457,3476.4 445.2,3477.6 433.3,3477.6 439.5,3476.5 434.2,3478 439.5,3479.5 440.3,3485.6 443.3,3481.8 445.6,3487.9 454,3489.4 453.2,3494.8 458.6,3496.3 453.2,3498.6 447.1,3493.2 445.6,3502.4 438,3502.4 439.5,3505.4 434.2,3507.7 438,3508.4 435.7,3503.9 427.4,3503.1 420.5,3498.6 419,3502.4 430.4,3505.4 444.1,3507.7 445.6,3503.9 447.1,3506.9 453.2,3503.9 471.5,3504.6 457.8,3505.4 453.2,3503.9 466.9,3496.3 473,3497.8 476,3494.8 482.9,3494.8 479.1,3492.5 476,3491 472.2,3487.1 467.7,3487.1 471.5,3484.9 470.7,3481.1 473,3478.8 481.4,3476.5 445.6,3477.3" fill="none" stroke="#000" class="cv cvc"/><path d="M1334.8,2654.8 1371.9,2648 1349.7,2646.2 1360.8,2641.9 1363.3,2647.4 1350.9,2651.1 1342.2,2648.7 1343.5,2659.8 1355.8,2653.6 1348.4,2656.1 1337.3,2658.5 1362,2652.4 1369.4,2653.6 1354.6,2657.3 1350.9,2663.5 1344.7,2656.1 1360.8,2649.9" fill="none" stroke="#000" class="cv cvc"/><path d="M639.5,3339.7 637.9,3338 652.8,3335.7 666.1,3334.7 671.1,3331.4 666.1,3326.4 682.8,3324.7 689.4,3321.4 686.1,3314.7 682.8,3304.8 662.8,3304.8 699.4,3298.1 671.1,3298.1 682.8,3296.4 682.8,3286.5 692.7,3284.8 709.4,3281.5 717.7,3278.1 729.3,3269.8 732.7,3268.2 742.6,3274.8 734.3,3269.8 736,3254.9 739.3,3244.9 742.6,3243.2 736,3238.2 732.7,3234.9 739.3,3226.6 741,3218.3 746,3229.9 750,3223.2 764.8,3226.1 769.8,3222.8 776.4,3216.2 783.1,3204.5 788.1,3206.2 796.4,3201.2 804.7,3199.5 806.4,3192.9 798,3189.5 809.7,3186.2 814.7,3179.6 814.7,3171.2 819.7,3162.9 821.3,3159.6 867.9,3161.3 829.6,3152.9 829.6,3149.6 841.3,3141.3 846.3,3134.7 851.3,3133 852.9,3128 862.9,3124.7 879.5,3118 902.8,3114.7 899.5,3103 906.2,3086.4 916.1,3083.1 916.1,3066.5 921.1,3061.5 912.8,3066.5 906.2,3059.8 916.1,3058.1 932.8,3058.1 927.8,3044.8 942.7,3044.8 949.4,3039.8 961,3029.9 972.7,3023.2 981,3021.5 982.7,3019.2 992.6,3019.9 989.3,3008.2 1000,3004.9 1000,3005.6 1020.9,3001.7 1013.3,2997.9 1008.6,2997.9 1011.4,2990.3 1019,2986.5 1026.6,2982.7 1022.8,2977 1020.9,2973.2 1024.7,2970.4 1028.5,2966.6 1038,2962.8 1072.2,2953.3 1034.2,2958 1029.5,2956.1 1025.7,2948.5 1044.7,2946.6 1041.8,2944.7 1049.4,2941.9 1062.7,2935.2 1062.7,2931.4 1070.3,2929.5 1077.9,2925.7 1080.8,2928.6 1085.6,2924.8 1089.4,2920 1094.6,2912.9 1102.9,2904.6 1121.2,2906.3 1117.9,2893 1119.6,2891.3 1122.9,2888 1121.2,2884.7 1126.2,2881.3 1129.5,2871.4 1131.2,2878 1129.5,2866.4 1134.5,2863 1142.8,2859.7 1129.5,2854.7 1139.5,2851.4 1149.5,2846.4 1152.8,2843.1 1156.2,2841.4 1162.8,2846.4 1166.1,2829.8 1172.8,2828.1 1182.8,2826.5 1187.8,2819.8 1192.7,2809.8 1194.4,2814.8 1196.1,2821.5 1202.7,2816.5 1206.1,2808.2 1211,2806.5 1214.4,2813.1 1216,2804.8 1222.7,2796.5 1219.4,2791.5 1224.4,2789.9 1224.4,2781.5 1216,2779.9 1207.7,2779.9 1187.8,2778.2 1206.1,2771.6 1219.4,2766.6 1234.3,2763.2 1231,2756.6 1229.3,2754.9 1234.3,2766.6 1250,2761.6 1262.9,2759.2 1269.2,2745.1 1275.5,2735.7 1303.7,2727.8 1297.4,2724.7 1292.7,2715.3 1303.7,2713.7 1295.9,2712.1 1313.1,2694.9 1322.5,2698 1324.1,2683.9 1335.1,2688.6 1350.8,2687.1 1357,2680.8 1350.8,2674.5 1353.9,2665.1 1350.8,2663.5 1369.6,2662 1375.8,2652.5 1385.3,2651 1366.4,2652.5 1350.8,2660.4 1369.6,2671.4 1382.1,2680.8 1393.1,2687.1 1407.2,2688.6 1391.5,2690.2 1372.7,2701.2 1366.4,2698 1361.7,2702.7 1357,2705.9 1347.6,2707.4 1338.2,2721.6 1342.9,2731 1341.3,2737.2 1342.9,2741.9 1350.8,2746.6 1331.9,2751.4 1325.7,2754.5 1321,2757.6 1327.2,2765.5 1313.1,2763.9 1306.8,2765.5 1300.6,2774.9 1294.3,2771.7 1288,2768.6 1286.4,2776.4 1284.9,2782.7 1281.7,2787.4 1289.6,2792.1 1278.6,2796.8 1273.9,2800 1272.3,2812.5 1267.6,2815.7 1269.2,2821.9 1275.5,2825.1 1267.6,2828.2 1262.9,2831.3 1256.6,2834.5 1253.5,2840.8 1244.1,2848.6 1231.6,2853.3 1222.1,2859.6 1212.7,2865.8 1203.3,2872.1 1193.9,2876.8 1187.6,2887.8 1184.5,2890.9 1189.4,2899.6 1186.1,2909.6 1182.8,2916.3 1179.4,2922.9 1176.1,2927.9 1176.1,2934.6 1169.5,2936.2 1162.8,2939.6 1149.5,2942.9 1146.2,2951.2 1136.2,2946.2 1129.5,2949.5 1119.6,2952.9 1106.3,2954.5 1086.3,2952.9 1081.7,2950.4 1110.3,2971.3 1093.2,2970.4 1093.2,2977 1091.3,2982.7 1089.4,2989.4 1083.7,2999.8 1083.7,3009.4 1072.2,3013.2 1076,3015.1 1097,3018.9 1075.1,3023.6 1068.4,3026.5 1058.9,3030.3 1055.1,3033.1 1049.4,3040 1000,3058.1 986,3063.1 987.7,3073.1 989.3,3081.4 986,3088.1 981,3093.1 984.3,3099.7 982.7,3093.1 981,3099.7 981,3113 972.7,3113 964.4,3113 966,3118 962.7,3124.7 949.4,3126.3 936.1,3128 932.8,3131.3 924.5,3141.3 917.8,3154.6 961,3143 932.8,3146.3 909.5,3151.3 857.9,3152.9 901.2,3154.6 902.8,3156.3 897.8,3162.9 889.5,3167.9 881.2,3172.9 884.5,3189.5 882.9,3184.6 887.9,3189.5 884.5,3194.5 879.5,3204.5 899.5,3201.2 879.5,3204.5 866.2,3206.2 852.9,3214.5 842.9,3216.2 831.3,3217.8 821.3,3221.1 813,3222.8 806.4,3229.5 799.7,3229.5 799.8,3238.9 796,3239.9 797,3244.6 799.8,3250.3 800.8,3256 803.6,3257.9 799.8,3257.9 799.8,3261.7 812.2,3259.8 805.5,3276 800.8,3263.7 789.4,3267.5 787.5,3273.2 779.8,3274.1 781.7,3286.5 777.9,3288.4 788.4,3289.9 765.6,3286.5 764.6,3280.8 758.9,3283.6 753.2,3285.5 734.2,3284.6 745.6,3301.7 749.4,3290.3 733.3,3291.2 730.4,3303.6 731.4,3313.1 733.3,3316.9 724.7,3320.7 717.1,3321.6 707.6,3326.4 700,3328.3 686.1,3329.7 702.7,3334.7 689.4,3338 712.7,3339.7 691.1,3348 686.1,3343 676.1,3339.7 662.8,3344.7 652.8,3343 639.5,3339.7 638,3338.1 667.1,3340.6 639.9,3339.3 677,3331.9 654.7,3346.7 663.4,3338.1 642.4,3341.8 673.3,3345.5 638.7,3340.6 670.8,3334.4 679.4,3345.5 675.7,3331.9 689.3,3349.2 683.1,3334.4 691.8,3348 712.8,3338.7 691.8,3340.6 685.6,3329.4 711.6,3333.1 688.1,3328.2 741.2,3328.8 719,3322 707.9,3327.6 721.4,3323.3 716.5,3328.2 688.1,3330.7 683.1,3324.5 667.1,3327 663.4,3331.9 662.1,3339.3 638,3338.1" fill="none" stroke="#f00" class="cv cvc"/><path d="M1357.1,2654.8 1388,2649.9 1368.2,2652.4 1384.3,2652.4 1357.1,2656.1 1349.7,2666 1379.3,2659.8 1357.1,2662.2 1389.2,2672.1 1363.3,2668.4 1354.6,2664.7 1350.9,2670.9 1369.4,2663.5 1381.8,2662.2 1357.1,2675.8 1386.7,2674.6 1369.4,2672.1 1407.7,2687.6 1389.2,2689.4 1379.3,2685.7 1371.9,2680.8" fill="none" stroke="#f00" class="cv cvc"/><path d="M1091.3,3007.5 1079.8,2997.9 1076,2994.1 1048.5,2992.2 1079.8,2991.3 1083.7,2987.5 1095.1,2987.5 1098.9,2984.6 1100.8,2980.8 1098.9,2977 1091.3,2977 1093.2,2974.2 1100.8,2973.2 1114.1,2972.3 1098.9,2972.3 1083.7,2972.3 1071.3,2970.4 1081.7,2971.3 1085.6,2969.4 1087.5,2967.5 1091.3,2964.7 1095.1,2966.6 1098.9,2963.7 1102.7,2959.9 1103.6,2954.2 1110.3,2952.3 1117.9,2953.3 1129.3,2953.3 1112.2,2951.4 1114.1,2948.5 1116,2946.6 1117.9,2943.8 1110.3,2943.8 1100.8,2942.8 1108.4,2940.9 1123.6,2939 1146.4,2935.2 1123.6,2936.2 1114.1,2935.2 1077.9,2939 1104.6,2923.8 1108.4,2925.7 1110.3,2935.2 1113.1,2929.5 1117.9,2927.6 1123.6,2923.8 1129.3,2922.9 1133.1,2920 1136.2,2919.6 1139.5,2917.9 1146.2,2916.3 1149.5,2914.6 1149.5,2909.6 1146.2,2901.3 1152.8,2899.6 1144.5,2894.7 1149.5,2889.7 1152.8,2886.3 1159.5,2883 1166.1,2876.4 1181.1,2874.7 1192.7,2869.7 1196.1,2863 1199.4,2861.4 1202.7,2863 1202.7,2856.4 1209.4,2853.1 1219.4,2851.4 1222.7,2848.1 1172.8,2843.1 1209.4,2839.8 1229.3,2846.4 1232.7,2839.8 1226,2836.4 1212.7,2834.8 1199.4,2831.4 1219.4,2829.8 1236,2826.5 1250,2823.1 1245.7,2825.1 1242.5,2815.7 1250.4,2811 1241,2803.1 1244.1,2800 1237.8,2801.5 1241,2790.6 1253.5,2785.9 1256.6,2782.7 1261.4,2784.3 1264.5,2779.6 1270.8,2773.3 1275.5,2770.2 1284.9,2771.7 1291.2,2770.2 1289.6,2763.9 1288,2756.1 1289.6,2751.4 1297.4,2748.2 1303.7,2746.6 1313.1,2743.5 1311.5,2740.4 1321,2735.7 1325.7,2732.5 1331.9,2731 1324.1,2727.8 1336.6,2724.7 1331.9,2720 1336.6,2712.1 1333.5,2707.4 1324.1,2709 1333.5,2702.7 1330.4,2698 1341.3,2696.5 1350.8,2691.8 1357,2690.2 1360.2,2687.1 1355.5,2680.8 1363.3,2676.1 1369.6,2672.9 1375.8,2668.2 1382.1,2665.1 1388.4,2658.8 1394.7,2652.5 1400.9,2649.4 1410.4,2652.5 1438.6,2654.1 1419.8,2658.8 1422.9,2665.1 1410.4,2669.8 1397.8,2671.4 1388.4,2676.1 1379,2682.3 1383.7,2685.5 1375.8,2696.5 1382.1,2694.9 1394.7,2696.5 1411.9,2693.3 1400.9,2696.5 1388.4,2698 1379,2701.2 1369.6,2704.3 1363.3,2705.9 1353.9,2718.4 1360.2,2721.6 1363.3,2727.8 1369.6,2738.8 1357,2745.1 1350.8,2746.6 1338.2,2748.2 1325.7,2754.5 1321,2757.6 1338.2,2757.6 1368,2758.6 1335.1,2759.8 1306.8,2760.8 1314.7,2767 1319.4,2770.2 1316.2,2774.9 1321,2778 1316.2,2782.7 1306.8,2787.4 1300.6,2793.7 1294.3,2790.6 1284.9,2796.8 1272.3,2800 1269.2,2806.2 1297.4,2809.4 1269.2,2811 1267.6,2817.2 1269.2,2821.9 1267.6,2828.2 1266.1,2829.8 1259.8,2834.5 1253.5,2839.2 1247.2,2845.5 1241,2848.6 1231.6,2853.3 1228.4,2859.6 1223.7,2865.8 1228.4,2872.1 1231.6,2875.3 1219,2881.5 1212.7,2887.8 1209.6,2894.1 1202.7,2886.3 1196.1,2889.7 1186.1,2893 1192.7,2896.3 1189.4,2899.6 1182.8,2901.3 1186.1,2906.3 1179.4,2912.9 1176.1,2916.3 1171.1,2919.6 1172.8,2922.9 1169.5,2929.6 1162.8,2932.9 1152.8,2936.2 1147.8,2939.6 1149.5,2946.2 1132.9,2949.5 1126.2,2952.9 1136.2,2952.9 1139.5,2959.5 1132.9,2966.2 1134.5,2969.5 1132.9,2976.2 1116.2,2979.5 1126.2,2981.1 1119.6,2984.5 1109.6,2986.1 1102.9,2989.5 1106.5,2989.4 1098.9,2990.3 1123.6,2996 1106.5,2995.1 1102.7,2997.9 1116,2998.9 1104.6,2999.8 1098.9,3003.7 1095.1,3008.4 1091.3,3007.5 1093.6,3008.4 1087.9,3003.9 1083.3,2999.3 1076.5,2999.3 1119.8,2999.3 1085.6,2997.6 1075.4,2995.9 1123.3,2995.9 1077.6,2994.2 1048,2992.5 1099.3,2993.6 1083.3,2991.3 1097,2989 1083.3,2987.9 1099.3,2987.9 1119.8,2987.3 1103.9,2990.2 1113,2985.6 1101.6,2985.1 1119.8,2986.8 1101.6,2983.3 1126.7,2982.2 1101.6,2982.2 1102.7,2978.8 1091.3,2978.2 1103.9,2977.6 1092.5,2976.5 1110.7,2974.2 1117.6,2973.1 1083.3,2973.1 1071.9,2970.2 1113,2970.2 1089,2970.8 1085.6,2970.2 1090.2,2964.5 1092.5,2966.8 1097,2964.5 1101.6,2961.1 1103.9,2958.3 1110.7,2954.8 1122.1,2954.3 1106.2,2953.1 1134.7,2953.7 1129,2950.3 1119.8,2945.7 1101.6,2942.9 1131.3,2941.7 1129,2945.7 1134.7,2952.5 1132.4,2957.1 1139.2,2960.5 1134.7,2960.5 1134.7,2968.5 1113,2969.7 1108.4,2970.8 1117.6,2973.1 1091.3,2974.2 1087.9,2977.6 1103.9,2979.9 1099.3,2985.6 1093.6,2990.2 1087.9,2994.8 1079.9,2997 1087.9,3001.6 1093.6,3008.4" fill="none" stroke="#00f" class="cv cvc"/><path d="M1367,2659.8 1389.2,2657.3 1438.6,2653.6 1417.6,2652.4 1394.1,2648.7 1404,2654.8 1422.6,2658.5 1425,2664.7 1399.1,2663.5 1418.9,2668.4 1389.2,2670.9 1406.5,2672.1 1405.3,2677.1 1394.1,2677.1 1348.4,2682 1371.9,2679.5 1396.6,2685.7 1412.7,2694.4 1389.2,2691.9 1409,2698.1 1391.7,2701.8 1371.9,2705.5 1384.3,2651.1 1396.6,2659.8 1411.4,2661 1381.8,2666" fill="none" stroke="#00f" class="cv cvc"/><path d="M355.7,3625.5v-11M355.7,2624.8v11M486.9,3625.5v-21M486.9,2624.8v21M618.1,3625.5v-11M618.1,2624.8v11M749.3,3625.5v-21M749.3,2624.8v21M880.5,3625.5v-11M880.5,2624.8v11M1011.6,3625.5v-21M1011.6,2624.8v21M1142.8,3625.5v-11M1142.8,2624.8v11M1274,3625.5v-21M1274,2624.8v21M1405.2,3625.5v-11M1405.2,2624.8v11M224.5,3500.4h11M1536.4,3500.4h-11M224.5,3375.3h21M1536.4,3375.3h-21M224.5,3250.2h11M1536.4,3250.2h-11M224.5,3125.2h21M1536.4,3125.2h-21M224.5,3000.1h11M1536.4,3000.1h-11M224.5,2875h21M1536.4,2875h-21M224.5,2749.9h11M1536.4,2749.9h-11" class="tk"/><rect x="224.5" y="2624.8" width="1311.9" height="1000.7" class="fr"/><g class="tl"><rect x="1131.4" y="3316" width="314.7" height="182" class="lg"/><line x1="1150" y1="3349.3" x2="1257.2" y2="3349.3" stroke="#000" class="ll"/><text transform="translate(1436.6,3366.3) scale(0.915,1)" text-anchor="end" class="lt">1700kN</text><line x1="1150" y1="3409.5" x2="1257.2" y2="3409.5" stroke="#f00" class="ll"/><text transform="translate(1436.6,3426.5) scale(0.915,1)" text-anchor="end" class="lt">2040kN</text><line x1="1150" y1="3469.7" x2="1257.2" y2="3469.7" stroke="#00f" class="ll"/><text transform="translate(1436.6,3486.7) scale(0.915,1)" text-anchor="end" class="lt">2720kN</text></g><g class="tl"><text transform="translate(203,3639) scale(0.924,1)" text-anchor="end">1500</text><text transform="translate(203,3388.8) scale(0.924,1)" text-anchor="end">2000</text><text transform="translate(203,3138.7) scale(0.924,1)" text-anchor="end">2500</text><text transform="translate(203,2888.5) scale(0.924,1)" text-anchor="end">3000</text><text transform="translate(203,2638.3) scale(0.924,1)" text-anchor="end">3500</text><text transform="translate(224.5,3686.2) scale(0.924,1)" text-anchor="middle">1.3</text><text transform="translate(486.9,3686.2) scale(0.924,1)" text-anchor="middle">1.5</text><text transform="translate(749.3,3686.2) scale(0.924,1)" text-anchor="middle">1.7</text><text transform="translate(1011.6,3686.2) scale(0.924,1)" text-anchor="middle">1.9</text><text transform="translate(1274,3686.2) scale(0.924,1)" text-anchor="middle">2.1</text><text transform="translate(1536.4,3686.2) scale(0.924,1)" text-anchor="middle">2.3</text></g><g><text transform="translate(877,3742.7) scale(0.932,1)" text-anchor="middle" class="at xt">Displacement (mm)</text></g><text transform="translate(78.5,3144.7) rotate(-90) scale(1.065,1)" text-anchor="middle" class="at yt">Force (kN)</text><text transform="translate(807.5,3844) scale(0.965,1)" text-anchor="middle" class="pl">(<tspan font-weight="bold">c</tspan>)</text></svg>
</body></html>
